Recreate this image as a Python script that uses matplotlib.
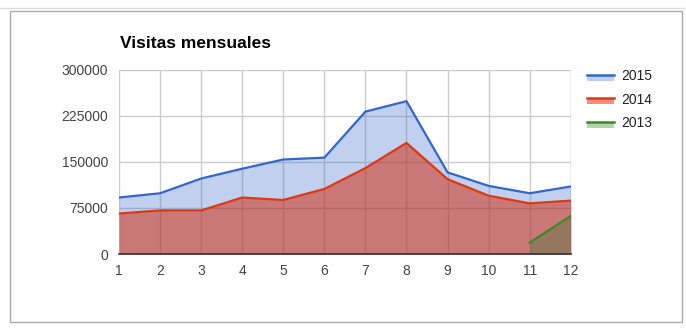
import matplotlib.pyplot as plt
from matplotlib.legend_handler import HandlerBase
from matplotlib.lines import Line2D
from matplotlib.patches import Rectangle

plt.rcParams['font.family'] = ['Liberation Sans', 'DejaVu Sans']

# Monthly visits
months = list(range(1, 13))
visits_2015 = [92000, 99000, 123000, 139000, 154000, 157000,
               232000, 249000, 133000, 111000, 99000, 110000]
visits_2014 = [66000, 71000, 71000, 92000, 88000, 106000,
               140000, 181000, 122000, 95000, 82500, 87000]
months_2013 = [11, 12]
visits_2013 = [18500, 62000]

y_ticks = [0, 75000, 150000, 225000, 300000]

blue = "#3366cc"
red = "#dc3912"
green = "#3a8a24"


class AreaHandler(HandlerBase):
    # line on top, pale band underneath (Google-charts style)
    def __init__(self, line_color, fill_color):
        super().__init__()
        self.lc, self.fc = line_color, fill_color

    def create_artists(self, legend, orig, xd, yd, w, h, fs, trans):
        band = Rectangle((xd, yd - h * 0.05), w, h * 0.6, facecolor=self.fc,
                         edgecolor="none", transform=trans)
        ln = Line2D([xd, xd + w], [yd + h * 0.6] * 2, color=self.lc,
                    lw=1.8, transform=trans)
        return [band, ln]


fig = plt.figure(figsize=(6.86, 3.36), dpi=100)
ax = fig.add_axes([0.1735, 0.244, 0.6585, 0.548])

# outer frame
fig.add_artist(plt.Line2D([0, 1], [0.976, 0.976], color="#dddddd", lw=1,
                          transform=fig.transFigure))
fig.add_artist(Rectangle((0.0146, 0.042), 0.98, 0.925, fill=False,
                         edgecolor="#aaaaaa", lw=1, transform=fig.transFigure))

ax.fill_between(months, 0, visits_2015, color=blue, alpha=0.3, lw=0)
ax.fill_between(months, 0, visits_2014, color="#d32200", alpha=0.5, lw=0)
ax.fill_between(months_2013, 0, visits_2013, color="#46753a", alpha=0.4, lw=0)
ax.plot(months, visits_2015, color=blue, lw=1.6, solid_joinstyle="round")
ax.plot(months, visits_2014, color=red, lw=1.6, solid_joinstyle="round")
ax.plot(months_2013, visits_2013, color=green, lw=1.6)

ax.set_xlim(1, 12)
ax.set_ylim(0, 300000)
ax.set_xticks(months)
ax.set_yticks(y_ticks)
ax.set_yticklabels([str(v) for v in y_ticks])
ax.tick_params(length=0, labelsize=10, colors="#444444", pad=8)
ax.tick_params(axis="x", pad=7)
ax.set_axisbelow(True)
ax.grid(True, color="#cccccc", lw=1)
for s in ["top", "right", "left"]:
    ax.spines[s].set_visible(False)
ax.spines["bottom"].set_color("#333333")
ax.spines["bottom"].set_linewidth(1.2)
ax.axvline(12, color="#cccccc", lw=1, zorder=0.5)

fig.text(0.175, 0.872, "Visitas mensuales", fontsize=12.5, fontweight="bold",
         color="black", va="center")

handles = [Line2D([], []), Line2D([], []), Line2D([], [])]
ax.legend(handles, ["2015", "2014", "2013"],
          handler_map={handles[0]: AreaHandler(blue, "#bfcdf0"),
                       handles[1]: AreaHandler(red, "#f0907a"),
                       handles[2]: AreaHandler(green, "#b4d2ae")},
          loc="upper left", bbox_to_anchor=(1.008, 1.07), frameon=False,
          fontsize=10, handlelength=1.95, handletextpad=0.55,
          labelspacing=0.68, labelcolor="#222222")

fig.savefig("out.png", dpi=100)
